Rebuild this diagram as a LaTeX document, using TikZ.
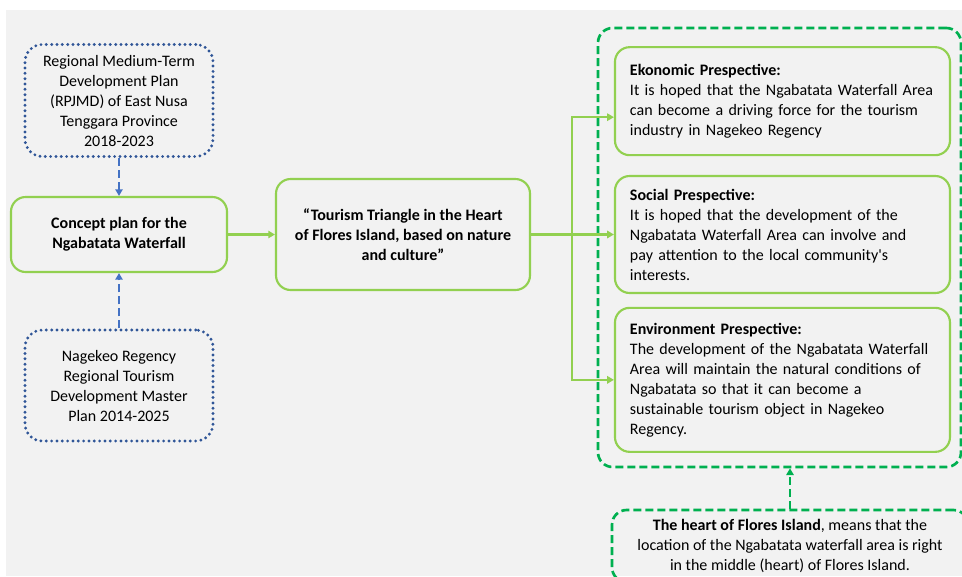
\documentclass[tikz,border=0pt]{standalone}
\usepackage{fontspec}
\setmainfont{Carlito}
\usepackage{tikz}
\usetikzlibrary{shapes,arrows.meta,positioning}
\usepackage{xcolor}
\definecolor{bggray}{HTML}{F2F2F2}
\definecolor{boxgreen}{HTML}{92D050}
\definecolor{dashgreen}{HTML}{00B050}
\definecolor{dotblue}{HTML}{2F5597}
\definecolor{arrblue}{HTML}{4472C4}
\tikzstyle{block} = [draw=boxgreen, line width=1.6pt, fill=bggray, rounded corners=11pt, rectangle, align=center, font={\fontsize{12pt}{15pt}\selectfont\bfseries}]
\tikzstyle{plan} = [draw=dotblue, line width=2.4pt, line cap=round, dash pattern=on 0pt off 4pt, rounded corners=13pt, rectangle, minimum width=141pt, minimum height=84pt, align=center]
\tikzstyle{persp} = [draw=boxgreen, line width=1.6pt, rounded corners=11pt, rectangle, minimum width=251.25pt, text width=228.75pt, inner xsep=11.25pt, align=left]
\tikzstyle{group} = [draw=dashgreen, line width=2pt, dash pattern=on 6pt off 3pt, rounded corners=11pt, rectangle]

\begin{document}
\begin{tikzpicture}[x=0.75pt, y=-0.75pt, >={Triangle[length=5pt, width=5.5pt]}]
    \tikzset{font={\fontsize{12pt}{15pt}\selectfont}}
    \useasboundingbox (0,0) rectangle (962,576);
    \clip (0,0) rectangle (962,576);
    \fill [bggray] (6,10) rectangle (962,576);

    \node [block, minimum width=162pt, minimum height=56.25pt] (concept) at (119,234.5) {Concept plan for the\\ Ngabatata Waterfall};
    \node [plan, above of=concept, node distance=100.5pt] (rpjmd) {Regional Medium-Term\\ Development Plan\\ (RPJMD) of East Nusa\\ Tenggara Province\\ 2018-2023};
    \node [plan, below of=concept, node distance=113.25pt, minimum height=83.25pt] (master) {Nagekeo Regency\\ Regional Tourism\\ Development Master\\ Plan 2014-2025};
    \node [block, right of=concept, node distance=213pt, minimum width=190.5pt, minimum height=83.25pt] (triangle) {``Tourism Triangle in the Heart\\ of Flores Island, based on nature\\ and culture''};
    \node [persp, right of=triangle, node distance=284.6pt, minimum height=87.75pt] (social) {\textbf{Social Prespective:}\\ It is hoped that the development of the\\ Ngabatata Waterfall Area can involve and\\ pay attention to the local community\textquotesingle s\\ interests.};
    \node [persp, above of=social, node distance=100pt, minimum height=81pt] (ekonomic) {\textbf{Ekonomic Prespective:}\\ It is hoped that the Ngabatata Waterfall Area\\ can become a driving force for the tourism\\ industry in Nagekeo Regency};
    \node [persp, below of=social, node distance=109pt, minimum height=108pt] (environment) {\textbf{Environment Prespective:}\\ The development of the Ngabatata Waterfall\\ Area will maintain the natural conditions of\\ Ngabatata so that it can become a\\ sustainable tourism object in Nagekeo\\ Regency.};
    \node [group, minimum width=272.25pt, minimum height=329.25pt] (outlook) at (779.5,247.5) {};
    \node [group, minimum width=267pt, minimum height=54pt, align=center] (heart) at (790,546) {\textbf{The heart of Flores Island}, means that the\\ location of the Ngabatata waterfall area is right\\ in the middle (heart) of Flores Island.};
    \coordinate (fork) at (572,234.5);

    \draw [->, arrblue, line width=2pt, dash pattern=on 6pt off 3pt] (rpjmd) -- (concept);
    \draw [->, arrblue, line width=2pt, dash pattern=on 6pt off 3pt] (master) -- (concept);
    \draw [->, boxgreen, line width=1.6pt] (concept) -- (triangle);
    \draw [boxgreen, line width=1.6pt] (triangle) -- (fork);
    \draw [->, boxgreen, line width=1.6pt] (fork) |- ([yshift=-12pt]ekonomic.west);
    \draw [->, boxgreen, line width=1.6pt] (fork) -- (social);
    \draw [->, boxgreen, line width=1.6pt] (fork) |- (environment);

    % Dashed arrow into the group
    \draw [->, dashgreen, line width=2pt, dash pattern=on 6pt off 3pt] (heart.north) -- (heart.north |- outlook.south);
\end{tikzpicture}
\end{document}
